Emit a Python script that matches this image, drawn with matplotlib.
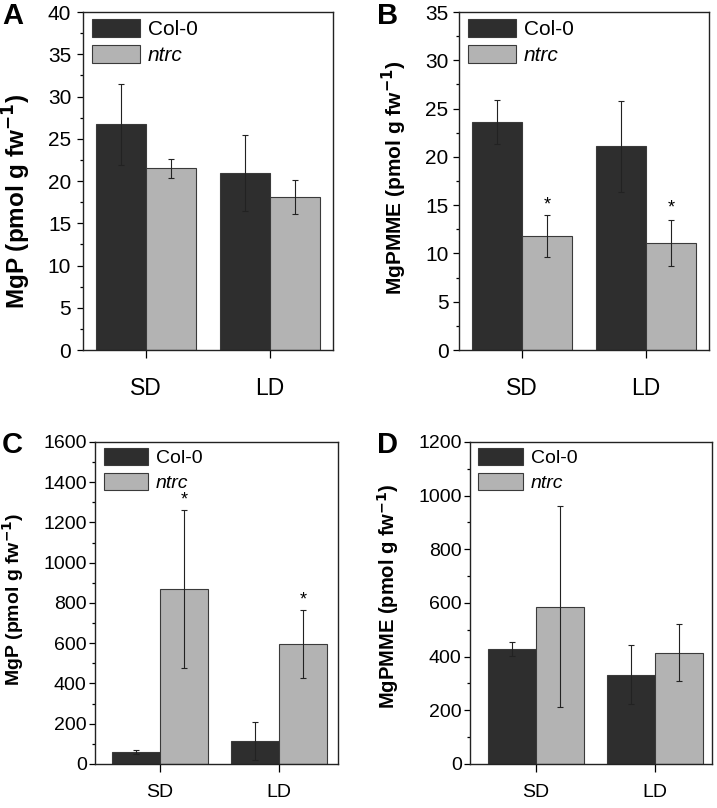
import matplotlib
matplotlib.use("Agg")
import matplotlib.pyplot as plt
from matplotlib.ticker import MultipleLocator
import numpy as np

plt.rcParams['font.family'] = ['Liberation Sans', 'DejaVu Sans']

categories = ["SD", "LD"]
series = ["Col-0", "ntrc"]

# Panel A: MgP
a_col = [26.7, 20.9]
a_col_err = [4.8, 4.5]
a_ntrc = [21.5, 18.1]
a_ntrc_err = [1.1, 2.0]

# Panel B: MgPMME
b_col = [23.6, 21.1]
b_col_err = [2.3, 4.7]
b_ntrc = [11.8, 11.1]
b_ntrc_err = [2.2, 2.4]
b_stars = [15.5, 15.1]

# Panel C: MgP
c_col = [60, 116]
c_col_err = [10, 94]
c_ntrc = [869, 595]
c_ntrc_err = [391, 168]
c_stars = [1330, 835]

# Panel D: MgPMME
d_col = [429, 332]
d_col_err = [25, 110]
d_ntrc = [586, 415]
d_ntrc_err = [374, 107]

DARK = "#2e2e2e"
GRAY = "#b3b3b3"
EDGE = "#3a3a3a"

fig = plt.figure(figsize=(7.17, 8.08), dpi=100)

panels = [
    dict(rect=[0.1158, 0.5668, 0.3487, 0.4183], col=a_col, colerr=a_col_err, nt=a_ntrc, nterr=a_ntrc_err,
         stars=None, ylim=(0, 40), major=5, minor=2.5, ylabel="MgP (pmol g fw$^{\\mathbf{-1}}$)",
         letter="A", xlim=(-0.508, 1.508), lpos=(0.003, 0.980), tfs=15, xfs=16.5, yfs=17.5, ypad=4,
         lp=11, ly=0.44, xpad=14),
    dict(rect=[0.6402, 0.5668, 0.3487, 0.4183], col=b_col, colerr=b_col_err, nt=b_ntrc, nterr=b_ntrc_err,
         stars=b_stars, ylim=(0, 35), major=5, minor=2.5, ylabel="MgPMME (pmol g fw$^{\\mathbf{-1}}$)",
         letter="B", xlim=(-0.508, 1.508), lpos=(0.526, 0.980), tfs=15, xfs=16.5, yfs=15, ypad=3,
         lp=12, ly=0.51, xpad=14),
    dict(rect=[0.1325, 0.0545, 0.3389, 0.3985], col=c_col, colerr=c_col_err, nt=c_ntrc, nterr=c_ntrc_err,
         stars=c_stars, ylim=(0, 1600), major=200, minor=100, ylabel="MgP (pmol g fw$^{\\mathbf{-1}}$)",
         letter="C", xlim=(-0.546, 1.496), lpos=(0.003, 0.449), tfs=14, xfs=14, yfs=14, ypad=1.5,
         lp=12, ly=0.51, xpad=9),
    dict(rect=[0.6555, 0.0545, 0.3375, 0.3985], col=d_col, colerr=d_col_err, nt=d_ntrc, nterr=d_ntrc_err,
         stars=None, ylim=(0, 1200), major=200, minor=100, ylabel="MgPMME (pmol g fw$^{\\mathbf{-1}}$)",
         letter="D", xlim=(-0.555, 1.479), lpos=(0.526, 0.449), tfs=14, xfs=14, yfs=14.5, ypad=1.5,
         lp=12, ly=0.52, xpad=9),
]

w = 0.4
x = np.arange(len(categories))
for p in panels:
    ax = fig.add_axes(p["rect"])
    ekw = dict(ecolor="#222222", elinewidth=0.8, capsize=2.5, capthick=0.8)
    ax.bar(x - w / 2, p["col"], w, yerr=p["colerr"], color=DARK, edgecolor=EDGE, linewidth=0.8,
           label=series[0], error_kw=ekw, zorder=2)
    ax.bar(x + w / 2, p["nt"], w, yerr=p["nterr"], color=GRAY, edgecolor=EDGE, linewidth=0.8,
           label=series[1], error_kw=ekw, zorder=2)
    if p["stars"] is not None:
        for xi, s in zip(x + w / 2, p["stars"]):
            ax.annotate("*", xy=(xi, s), xytext=(0, -3), textcoords="offset points",
                        ha="center", va="center", fontsize=13)
    ax.set_xlim(*p["xlim"])
    ax.set_ylim(*p["ylim"])
    ax.yaxis.set_major_locator(MultipleLocator(p["major"]))
    ax.yaxis.set_minor_locator(MultipleLocator(p["minor"]))
    ax.set_xticks(x)
    ax.set_xticklabels(categories)
    ax.tick_params(axis="y", which="major", direction="out", length=4.5, width=0.9,
                   labelsize=p["tfs"], pad=p["ypad"])
    ax.tick_params(axis="y", which="minor", direction="out", length=2.5, width=0.9)
    ax.tick_params(axis="x", which="major", direction="out", length=5.5, width=0.9,
                   labelsize=p["xfs"], pad=p["xpad"])
    ax.tick_params(right=False, top=False)
    for sp in ax.spines.values():
        sp.set_linewidth(1.0)
        sp.set_color("#222222")
    ax.set_ylabel(p["ylabel"], fontsize=p["yfs"], fontweight="bold", labelpad=p["lp"])
    ax.yaxis.label.set_y(p["ly"])
    leg = ax.legend(loc="upper left", bbox_to_anchor=(0.035, 0.98), frameon=False, fontsize=p["tfs"],
                    handlelength=2.3, handleheight=0.95, handletextpad=0.4, labelspacing=0.3,
                    borderpad=0, borderaxespad=0)
    leg.get_texts()[1].set_fontstyle("italic")
    fig.text(p["lpos"][0], p["lpos"][1], p["letter"], fontsize=21, fontweight="bold",
             va="center", ha="left")

fig.savefig("out.png", dpi=100)
